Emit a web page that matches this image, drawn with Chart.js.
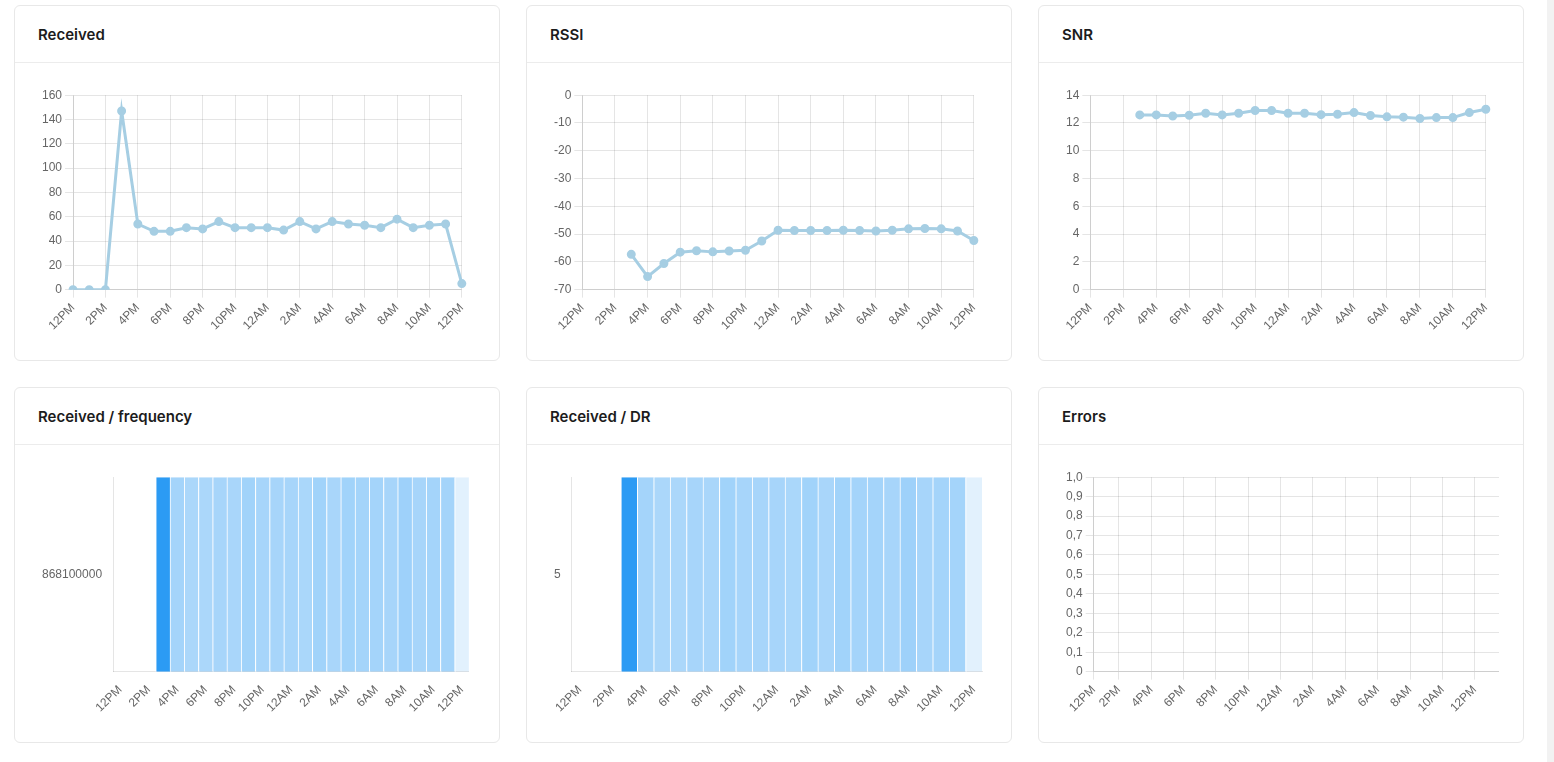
<!DOCTYPE html>
<html>
<head>
<meta charset="utf-8">
<script src="https://cdn.jsdelivr.net/npm/chart.js@4.4.1/dist/chart.umd.min.js"></script>
<style>
html, body { margin: 0; background: #fff; }
body { font-family: Inter, "Helvetica Neue", Arial, sans-serif; }
.grid { position: absolute; left: 14px; top: 5px; display: grid;
  grid-template-columns: repeat(3, 486px); grid-auto-rows: 356px; column-gap: 26px; row-gap: 26px; }
.card { border: 1px solid #e8e8e8; border-radius: 6px; box-sizing: border-box; background: #fff; }
.card-header { height: 56px; border-bottom: 1px solid #ececec; padding: 0 24px 0 23px;
  display: flex; align-items: center; font-size: 15px; font-weight: 600; color: #1c1c1c; }
.card-body { padding: 22px 24px 24px 24px; }
.chart-box { position: relative; height: 251px; }
.scroll { position: fixed; left: 1547px; top: 0; width: 7px; height: 100%; background: #f2f2f2; }
</style>
</head>
<body>
<div class="grid">
  <div class="card"><div class="card-header">Received</div><div class="card-body"><div class="chart-box"><canvas id="receivedChart"></canvas></div></div></div>
  <div class="card"><div class="card-header">RSSI</div><div class="card-body"><div class="chart-box"><canvas id="rssiChart"></canvas></div></div></div>
  <div class="card"><div class="card-header">SNR</div><div class="card-body"><div class="chart-box"><canvas id="snrChart"></canvas></div></div></div>
  <div class="card"><div class="card-header">Received / frequency</div><div class="card-body"><div class="chart-box"><canvas id="frequencyChart"></canvas></div></div></div>
  <div class="card"><div class="card-header">Received / DR</div><div class="card-body"><div class="chart-box"><canvas id="drChart"></canvas></div></div></div>
  <div class="card"><div class="card-header">Errors</div><div class="card-body"><div class="chart-box"><canvas id="errorsChart"></canvas></div></div></div>
</div>
<div class="scroll"></div>
<script>
const hourLabels = ['12PM', '1PM', '2PM', '3PM', '4PM', '5PM', '6PM', '7PM', '8PM', '9PM', '10PM', '11PM',
    '12AM', '1AM', '2AM', '3AM', '4AM', '5AM', '6AM', '7AM', '8AM', '9AM', '10AM', '11AM', '12PM'];
const receivedCounts = [0, 0, 0, 147, 54, 48, 48, 51, 50, 56, 51, 51,
    51, 49, 56, 50, 56, 54, 53, 51, 58, 51, 53, 54, 5];
const rssiValues = [null, null, null, -57.3, -65.3, -60.6, -56.5, -56.0, -56.4, -56.1, -55.8, -52.5,
    -48.6, -48.7, -48.7, -48.7, -48.6, -48.7, -48.9, -48.6, -48.1, -48.0, -48.1, -48.9, -52.3];
const snrValues = [null, null, null, 12.58, 12.58, 12.5, 12.56, 12.7, 12.58, 12.7, 12.9, 12.9,
    12.7, 12.7, 12.6, 12.63, 12.75, 12.54, 12.44, 12.42, 12.32, 12.39, 12.39, 12.75, 12.99];
const frequencyLabels = ['868100000'];
const frequencyCounts = [null, null, null, 147, 54, 48, 48, 51, 50, 56, 51, 51,
    51, 49, 56, 50, 56, 54, 53, 51, 58, 51, 53, 54, 5];
const drLabels = ['5'];
const drCounts = [null, null, null, 147, 54, 48, 48, 51, 50, 56, 51, 51,
    51, 49, 56, 50, 56, 54, 53, 51, 58, 51, 53, 54, 5];
const errorCounts = [];
const errorTickHours = [0.45, 2, 4, 6, 8, 10, 12, 14, 16, 18, 20, 22, 24];

const lineColor = '#a6cee3';
const evenLabel = (v, i) => (i % 2 ? '' : hourLabels[i]);
const gridColor = 'rgba(0,0,0,0.1)';

// Received / RSSI / SNR line charts
function lineChart(id, values, yScale) {
    new Chart(document.getElementById(id), {
        type: 'line',
        data: {
            labels: hourLabels,
            datasets: [{
                data: values,
                borderColor: lineColor,
                backgroundColor: lineColor,
                pointBackgroundColor: lineColor,
                borderWidth: 3,
                pointRadius: 3,
                tension: 0,
                fill: false
            }]
        },
        options: {
            responsive: true,
            maintainAspectRatio: false,
            animation: false,
            layout: { padding: { right: -2 } },
            scales: {
                x: {
                    grid: { color: ctx => (ctx.index % 2 ? 'transparent' : gridColor) },
                    ticks: { autoSkip: false, minRotation: 45, maxRotation: 45, callback: evenLabel }
                },
                y: yScale
            },
            plugins: { legend: { display: false }, tooltip: { enabled: false } }
        }
    });
}

lineChart('receivedChart', receivedCounts, { min: 0, max: 160, ticks: { stepSize: 20 } });
lineChart('rssiChart', rssiValues, { min: -70, max: 0, ticks: { stepSize: 10 } });
lineChart('snrChart', snrValues, { min: 0, max: 14, ticks: { stepSize: 2 } });

// Received / frequency and Received / DR heat strips
function heatChart(id, counts, rowLabels) {
    const maxCount = Math.max(...counts.filter(c => c != null));
    new Chart(document.getElementById(id), {
        type: 'bar',
        data: {
            labels: hourLabels,
            datasets: [{
                data: counts.map(c => (c ? [-0.5, 0.5] : null)),
                backgroundColor: counts.map(c => 'rgba(33,150,243,' + (c ? 0.1 + 0.85 * c / maxCount : 0) + ')'),
                borderColor: '#ffffff',
                borderWidth: { left: 1, right: 0, top: 0, bottom: 0 },
                borderSkipped: false,
                barPercentage: 1,
                categoryPercentage: 1
            }]
        },
        options: {
            responsive: true,
            maintainAspectRatio: false,
            animation: false,
            scales: {
                x: {
                    offset: true,
                    grid: { display: false },
                    ticks: { autoSkip: false, minRotation: 45, maxRotation: 45, callback: evenLabel }
                },
                y: {
                    min: -0.5,
                    max: 0.5,
                    grid: { display: false },
                    afterBuildTicks: axis => { axis.ticks = [{ value: 0 }]; },
                    ticks: { callback: () => rowLabels[0] }
                }
            },
            plugins: { legend: { display: false }, tooltip: { enabled: false } }
        }
    });
}

heatChart('frequencyChart', frequencyCounts, frequencyLabels);
heatChart('drChart', drCounts, drLabels);

// Errors
new Chart(document.getElementById('errorsChart'), {
    type: 'line',
    data: {
        datasets: [{ data: errorCounts, borderColor: lineColor }]
    },
    options: {
        responsive: true,
        maintainAspectRatio: false,
        animation: false,
        scales: {
            x: {
                type: 'linear',
                min: 0.45,
                max: 25.5,
                afterBuildTicks: axis => { axis.ticks = errorTickHours.map(v => ({ value: v })); },
                ticks: { autoSkip: false, minRotation: 45, maxRotation: 45,
                    callback: v => hourLabels[Math.round(v)] }
            },
            y: {
                min: 0,
                max: 1,
                ticks: { stepSize: 0.1, callback: v => (v === 0 ? '0' : v.toFixed(1).replace('.', ',')) }
            }
        },
        plugins: { legend: { display: false }, tooltip: { enabled: false } }
    }
});
</script>
</body>
</html>
